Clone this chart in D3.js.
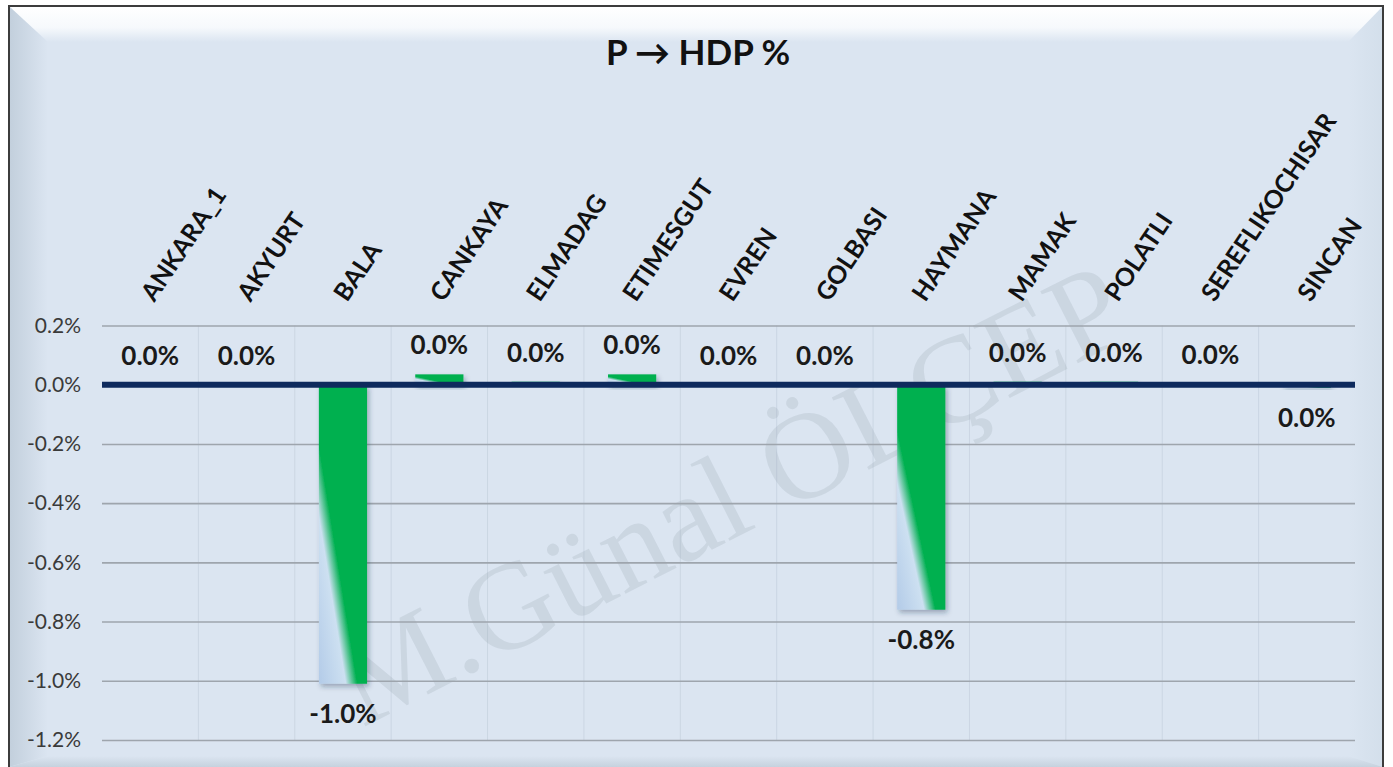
<!DOCTYPE html>
<html>
<head>
<meta charset="utf-8">
<script src="https://cdn.jsdelivr.net/npm/d3@7"></script>
<style>
  html, body { margin: 0; padding: 0; background: #fff; }
  svg { display: block; }
</style>
</head>
<body>
<div id="chart"></div>
<script>
// data
const categories = [
  "ANKARA_1", "AKYURT", "BALA", "CANKAYA", "ELMADAG", "ETIMESGUT", "EVREN",
  "GOLBASI", "HAYMANA", "MAMAK", "POLATLI", "SEREFLIKOCHISAR", "SINCAN",
]
// percent values (0.2 = 0.2%)
const values = [0, 0, -1.01, 0.035, 0.01, 0.035, 0, 0, -0.76, 0.01, 0.01, 0.003, -0.01]
const yTicks = [0.2, 0, -0.2, -0.4, -0.6, -0.8, -1.0, -1.2]
const title = "P → HDP %"
const watermark = "M.Günal ÖLÇEP"

// layout
const W = 1393, H = 767
const plot = { left: 102, right: 1355, top: 325.5, bottom: 740 }
const bg = "#dbe5f1"

const fmt = (v) => {
  const s = v.toFixed(1)
  return (s === "-0.0" ? "0.0" : s) + "%"
}

const svg = d3.select("#chart").append("svg")
  .attr("width", W).attr("height", H)

const defs = svg.append("defs")

const lin = (id, x1, y1, x2, y2, stops) => {
  const g = defs.append("linearGradient").attr("id", id)
    .attr("x1", x1).attr("y1", y1).attr("x2", x2).attr("y2", y2)
  stops.forEach(([o, c]) => g.append("stop").attr("offset", o).attr("stop-color", c))
}
lin("topBevel", 0, 0, 0, 1, [[0, "#ffffff"], [0.6, "#f6f9fc"], [1, bg]])
lin("leftBevel", 0, 0, 1, 0, [[0, "#c2cfdc"], [1, bg]])
lin("rightBevel", 0, 0, 1, 0, [[0, bg], [1, "#d3dfeb"]])
lin("bottomBevel", 0, 0, 0, 1, [[0, bg], [1, "#c6d2de"]])
lin("barFill", 0, 1, 1, 0, [[0, "#b3cbe8"], [0.28, "#cde0f1"], [0.4, "#00b050"], [1, "#00b050"]])

const shadow = defs.append("filter").attr("id", "shadow")
  .attr("x", "-50%").attr("y", "-50%").attr("width", "200%").attr("height", "200%")
shadow.append("feDropShadow").attr("dx", 2).attr("dy", 3)
  .attr("stdDeviation", 2.5).attr("flood-color", "#1f3550").attr("flood-opacity", 0.35)

// frame with bevel
const fx0 = 9, fy0 = 6, fx1 = 1383, fy1 = H
svg.append("rect").attr("x", fx0).attr("y", fy0)
  .attr("width", fx1 - fx0).attr("height", fy1 - fy0).attr("fill", bg)
svg.append("polygon").attr("fill", "url(#leftBevel)")
  .attr("points", [[fx0, fy0], [48, 42], [48, 756], [fx0, fy1]].join(" "))
svg.append("polygon").attr("fill", "url(#rightBevel)")
  .attr("points", [[fx1, fy0], [fx1, fy1], [1348, 756], [1348, 42]].join(" "))
svg.append("polygon").attr("fill", "url(#bottomBevel)")
  .attr("points", [[48, 756], [1348, 756], [fx1, fy1], [fx0, fy1]].join(" "))
svg.append("polygon").attr("fill", "url(#topBevel)")
  .attr("points", [[fx0, fy0], [fx1, fy0], [1348, 42], [48, 42]].join(" "))
svg.append("path")
  .attr("d", `M${fx0},${fy1}V${fy0}H${fx1}V${fy1}`)
  .attr("fill", "none").attr("stroke", "#3c3c3c").attr("stroke-width", 2)

// scales
const y = d3.scaleLinear().domain([-1.2, 0.2]).range([plot.bottom, plot.top])
const xGrid = d3.scaleBand().domain(categories).range([plot.left, plot.right])
const x = d3.scaleBand().domain(categories).range([plot.left, plot.right])
  .paddingInner(0.5).paddingOuter(0.25)

// vertical category grid
svg.append("g")
  .selectAll("line")
  .data(categories.slice(1))
  .join("line")
  .attr("x1", (d) => xGrid(d)).attr("x2", (d) => xGrid(d))
  .attr("y1", plot.top).attr("y2", plot.bottom)
  .attr("stroke", "#cbd6e3").attr("stroke-width", 1)

// watermark (very faint)
svg.append("text")
  .attr("transform", "translate(730,494) rotate(-27)")
  .attr("text-anchor", "middle")
  .attr("dominant-baseline", "central")
  .attr("font-family", "'Liberation Serif', 'DejaVu Serif', serif")
  .attr("font-size", 124)
  .attr("fill", "#8e99a5")
  .attr("fill-opacity", 0.2)
  .text(watermark)

// y axis + horizontal grid
svg.append("g")
  .attr("transform", `translate(${plot.left},0)`)
  .call(d3.axisLeft(y).tickValues(yTicks).tickFormat(fmt)
    .tickSizeInner(-(plot.right - plot.left)).tickSizeOuter(0).tickPadding(21))
  .call((g) => g.select(".domain").remove())
  .call((g) => g.selectAll(".tick line").attr("stroke", "#9ea5ad").attr("stroke-width", 1.6))
  .call((g) => g.selectAll(".tick text")
    .attr("fill", "#3a3a3a")
    .attr("font-family", "Lato, 'Open Sans', sans-serif")
    .attr("font-size", 21))

// bars
svg.append("g")
  .selectAll("rect")
  .data(values)
  .join("rect")
  .attr("x", (d, i) => x(categories[i]))
  .attr("width", x.bandwidth())
  .attr("y", (d) => y(Math.max(0, d)))
  .attr("height", (d) => Math.max(1, Math.abs(y(d) - y(0))))
  .attr("fill", "url(#barFill)")
  .attr("filter", "url(#shadow)")

// zero line
svg.append("line")
  .attr("x1", plot.left).attr("x2", plot.right)
  .attr("y1", y(0)).attr("y2", y(0))
  .attr("stroke", "#0e2a5d").attr("stroke-width", 6)

// data labels
svg.append("g")
  .selectAll("text")
  .data(values)
  .join("text")
  .attr("x", (d, i) => x(categories[i]) + x.bandwidth() / 2)
  .attr("y", (d) => d >= 0 ? y(d) - 20 : y(d) + 39)
  .attr("text-anchor", "middle")
  .attr("font-family", "Lato, 'Open Sans', sans-serif")
  .attr("font-weight", "bold")
  .attr("font-size", 26)
  .attr("fill", "#1a1a1a")
  .text(fmt)

// category labels (rotated, above plot)
svg.append("g")
  .selectAll("text")
  .data(categories)
  .join("text")
  .attr("transform", (d) => `translate(${xGrid(d) + xGrid.bandwidth() / 2 + 4},303) rotate(-56)`)
  .attr("font-family", "Lato, 'Open Sans', sans-serif")
  .attr("font-weight", "bold")
  .attr("font-size", 25)
  .attr("fill", "#111")
  .text((d) => d)

// title
svg.append("text")
  .attr("x", 698).attr("y", 65)
  .attr("text-anchor", "middle")
  .attr("font-family", "Lato, 'Open Sans', sans-serif")
  .attr("font-weight", "bold")
  .attr("font-size", 35)
  .attr("fill", "#111")
  .text(title)
</script>
</body>
</html>
